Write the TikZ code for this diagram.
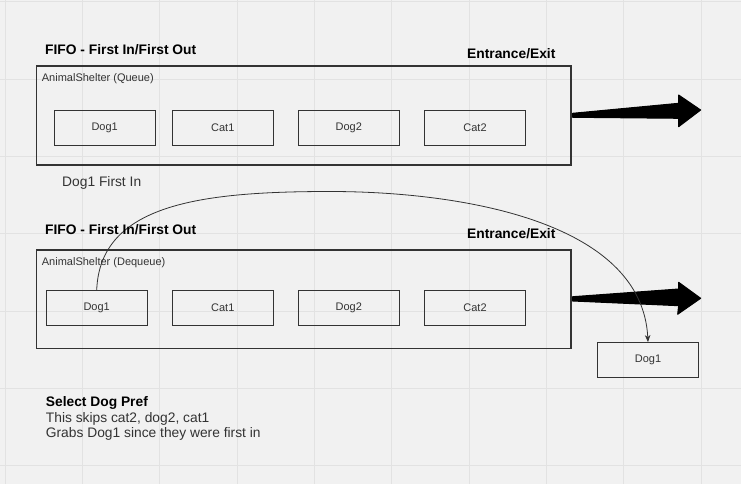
\documentclass[tikz,border=0pt]{standalone}
\usepackage{fontspec}
\setmainfont{Liberation Sans}
\usetikzlibrary{arrows.meta}
\definecolor{bggray}{HTML}{F1F1F1}
\definecolor{gridgray}{HTML}{E2E2E2}
\definecolor{inkgray}{HTML}{333333}
\begin{document}
\begin{tikzpicture}[x=1pt, y=-1pt,
	gridline/.style={draw=gridgray, line width=0.8pt},
	shelter/.style={draw=inkgray, line width=1.2pt, inner sep=0pt, minimum width=534.3pt},
	item/.style={draw=inkgray, line width=1.2pt, inner sep=0pt, minimum width=101pt, minimum height=34.6pt, text=inkgray, font=\fontsize{11}{13}\selectfont},
	tag/.style={anchor=base west, inner sep=0pt, text=inkgray, font=\fontsize{11}{13}\selectfont},
	title/.style={anchor=base west, inner sep=0pt, font=\bfseries\fontsize{13.8}{16}\selectfont},
	note/.style={anchor=base west, inner sep=0pt, text=inkgray, font=\fontsize{13.8}{16}\selectfont},
	bigarrow/.style={fill=black, draw=black, line width=1pt, line join=round},
	flow/.style={draw=inkgray, line width=0.8pt, -{Stealth[length=7pt, width=5.5pt, inset=2pt]}}]

\fill[bggray] (0,0) rectangle (741,484);
\useasboundingbox (0,0) rectangle (741,484);
\foreach \gx in {0,...,9}
	\draw[gridline] (5+77.33*\gx,0) -- (5+77.33*\gx,484);
\foreach \gy in {0,...,6}
	\draw[gridline] (0,1.7+77.32*\gy) -- (741,1.7+77.32*\gy);

% queue
\node[title] (qtitle) at (45,54.2) {FIFO - First In/First Out};
\node[title] (qexit) at (467,58.2) {Entrance/Exit};
\node[shelter, minimum height=99pt] (queue) at (303.9,115.5) {};
\node[tag] (qtag) at (41.7,81.2) {AnimalShelter (Queue)};

\node[item] (qdog1) at (104.7,128.2) {Dog1};
\node[item] (qcat1) at (222.8,128.2) {Cat1};
\node[item] (qdog2) at (348.8,128.2) {Dog2};
\node[item] (qcat2) at (475,128.2) {Cat2};

\begin{scope}[shift={(queue.east)}]
\filldraw[bigarrow] (1,-2.2) -- (107,-12.2) -- (107,-20.5) -- (129,-5.5)
	-- (107,11.2) -- (107,2.8) -- (1,1.8) -- cycle;
\end{scope}

\node[note] (firstin) at (62,186) {Dog1 First In};

% dequeue
\node[shelter, minimum height=98.3pt] (dequeue) at (303.9,299.2) {};

\node[item] (ddog1) at (96.7,308) {Dog1};
\node[item] (dcat1) at (222.8,308) {Cat1};
\node[item] (ddog2) at (348.8,308) {Dog2};
\node[item] (dcat2) at (475,308) {Cat2};

\begin{scope}[shift={(dequeue.east)}]
\filldraw[bigarrow] (1,-2.5) -- (107,-10.2) -- (107,-16.9) -- (129,-0.9)
	-- (106,15.1) -- (107,6.5) -- (1,1.8) -- cycle;
\end{scope}

\node[item] (outdog1) at (648,360) {Dog1};
\coordinate (arcpeak) at (330,191.5);
\draw[flow] (ddog1.north) .. controls +(3.3,-85.7) and +(-130,0) .. (arcpeak)
	.. controls +(130,0) and +(-6,-121) .. (outdog1.north);

\node[title] (dtitle) at (45,234.2) {FIFO - First In/First Out};
\node[title] (dexit) at (467,238.2) {Entrance/Exit};
\node[tag] (dtag) at (41.7,265.6) {AnimalShelter (Dequeue)};

\node[title] (prefhead) at (45.7,406.6) {Select Dog Pref};
\node[note] (prefskip) at (45.7,422.2) {This skips cat2, dog2, cat1};
\node[note] (prefgrab) at (45.7,437.6) {Grabs Dog1 since they were first in};
\end{tikzpicture}
\end{document}
